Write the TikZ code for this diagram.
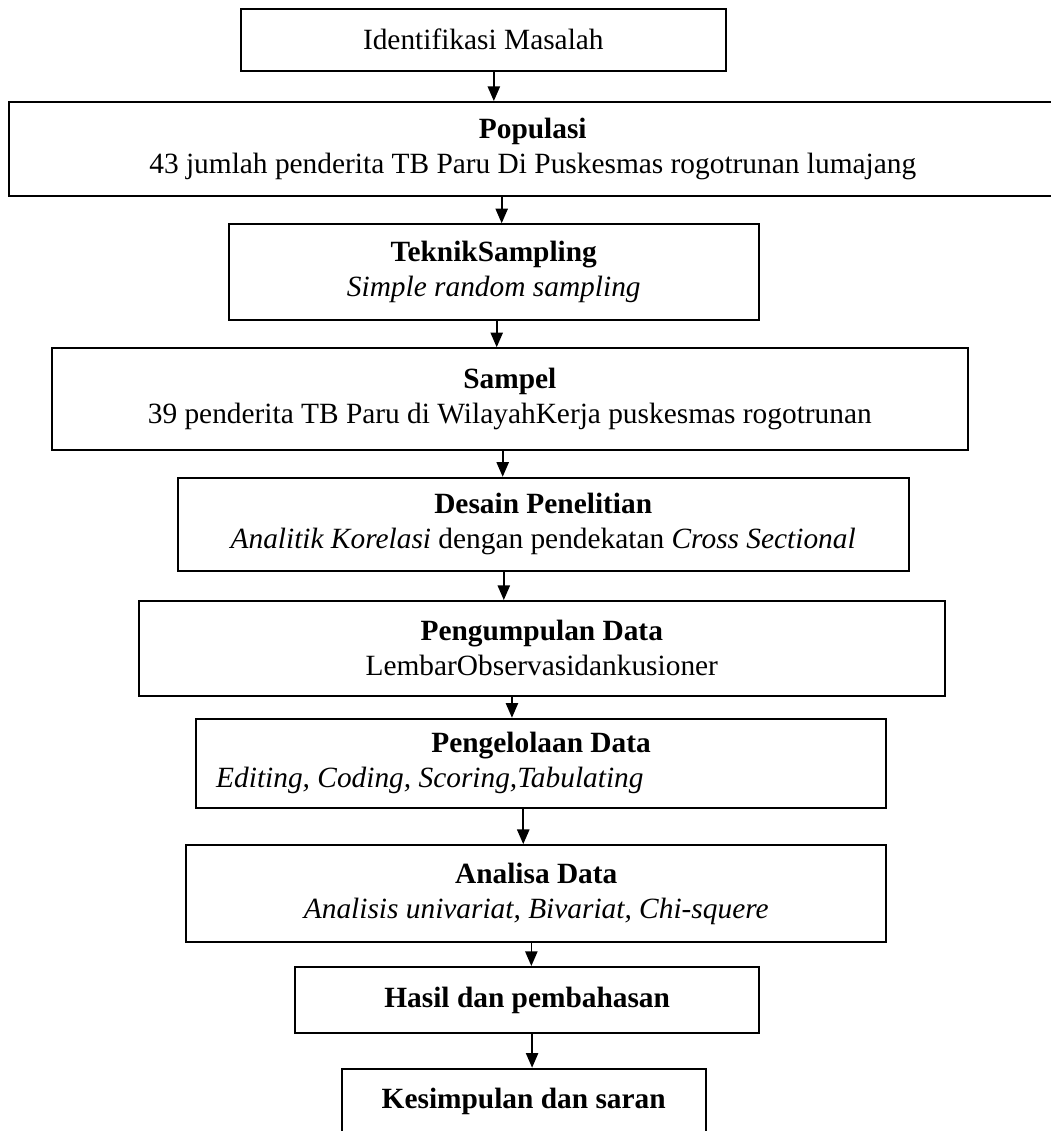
\documentclass[tikz,border=0pt]{standalone}
\usepackage{fontspec}
\setmainfont{Liberation Serif}
\usepackage{tikz}
\usetikzlibrary{positioning, arrows.meta}

\tikzset{
  kotak/.style={draw, rectangle, line width=0.8pt, align=center, inner sep=0pt,
    font=\fontsize{12}{14.3}\selectfont},
  panah/.style={line width=0.7pt, -{Triangle[length=6pt, width=5pt]}}
}

\begin{document}
\begin{tikzpicture}
                \useasboundingbox (0, 0) rectangle (15.09, -16.24);

                \node[kotak, minimum width=6.96cm, minimum height=0.89cm] (idm) at (6.94, -0.57) {Identifikasi Masalah};
                \node[kotak, minimum width=15.03cm, minimum height=1.35cm] (pop) at (7.65, -2.14) {\textbf{Populasi}\\43 jumlah penderita TB Paru Di Puskesmas rogotrunan lumajang};
                \node[kotak, minimum width=7.61cm, minimum height=1.38cm] (tek) at (7.09, -3.91) {\textbf{TeknikSampling}\\\textit{Simple random sampling}};
                \node[kotak, minimum width=13.15cm, minimum height=1.46cm] (smp) at (7.32, -5.73) {\textbf{Sampel}\\39 penderita TB Paru di WilayahKerja puskesmas rogotrunan};
                \node[kotak, minimum width=10.50cm, minimum height=1.34cm] (dsn) at (7.80, -7.53) {\textbf{Desain Penelitian}\\\textit{Analitik Korelasi} dengan pendekatan \textit{Cross Sectional}};
                \node[kotak, minimum width=11.57cm, minimum height=1.36cm] (kpl) at (7.78, -9.31) {\textbf{Pengumpulan Data}\\LembarObservasidankusioner};
                \node[kotak, minimum width=9.91cm, minimum height=1.28cm] (olh) at (7.77, -10.96) {\textbf{Pengelolaan Data}\\\makebox[9.33cm][l]{\textit{Editing, Coding, Scoring,Tabulating}}};
                \node[kotak, minimum width=10.05cm, minimum height=1.39cm] (anl) at (7.70, -12.83) {\textbf{Analisa Data}\\\textit{Analisis univariat, Bivariat, Chi-squere}};
                \node[kotak, minimum width=6.66cm, minimum height=0.95cm] (hsl) at (7.57, -14.36) {\textbf{Hasil dan pembahasan}};
                \node[kotak, minimum width=5.23cm, minimum height=0.95cm] (kes) at (7.52, -15.82) {\textbf{Kesimpulan dan saran}};

                \draw[panah] ([xshift=4.3pt]idm.south) -- ([xshift=4.3pt]idm.south |- pop.north);
                \draw[panah] ([xshift=-12.7pt]pop.south) -- ([xshift=-12.7pt]pop.south |- tek.north);
                \draw[panah] ([xshift=1.2pt]tek.south) -- ([xshift=1.2pt]tek.south |- smp.north);
                \draw[panah] ([xshift=-2.9pt]smp.south) -- ([xshift=-2.9pt]smp.south |- dsn.north);
                \draw[panah] ([xshift=-16.1pt]dsn.south) -- ([xshift=-16.1pt]dsn.south |- kpl.north);
                \draw[panah] ([xshift=-12.2pt]kpl.south) -- ([xshift=-12.2pt]kpl.south |- olh.north);
                \draw[panah] ([xshift=-7.3pt]olh.south) -- ([xshift=-7.3pt]olh.south |- anl.north);
                \draw[panah] ([xshift=-2pt]anl.south) -- ([xshift=-2pt]anl.south |- hsl.north);
                \draw[panah] ([xshift=2pt]hsl.south) -- ([xshift=2pt]hsl.south |- kes.north);
            \end{tikzpicture}
\end{document}
